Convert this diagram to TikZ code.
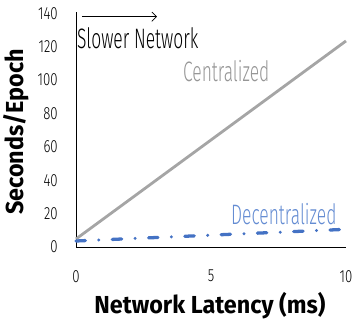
\documentclass[tikz,border=0pt]{standalone}
\usepackage{fontspec}
\usepackage{xcolor}
\usepackage{tikz}
\usetikzlibrary{arrows.meta}
\newfontfamily\thinfont{Fira Sans Light}[FakeStretch=0.62]
\newfontfamily\tickfont{Fira Sans Light}[FakeStretch=0.75]
\newfontfamily\heavyfont{Fira Sans Bold}[FakeStretch=0.95]
\definecolor{centralgray}{RGB}{165,165,165}
\definecolor{centraltext}{RGB}{150,150,150}
\definecolor{decblue}{RGB}{68,114,196}
\definecolor{dectext}{RGB}{100,140,210}

\begin{document}
\begin{tikzpicture}[x=0.81cm, y=0.0501cm,
  axis/.style={draw=black, line width=0.8pt},
  ticklabel/.style={font=\tickfont\fontsize{15}{15}\selectfont, inner sep=0pt},
  serieslabel/.style={font=\thinfont\fontsize{24}{24}\selectfont, inner sep=0pt},
  axislabel/.style={font=\heavyfont\fontsize{21}{21}\selectfont, inner sep=0pt},
  central/.style={centralgray, line width=2.4pt},
  decentral/.style={decblue, line width=2.8pt, line cap=round, dash pattern=on 8pt off 11.5pt on 0pt off 11.5pt},
]
  \useasboundingbox (-2.28cm,-2.28cm) rectangle (8.43cm,7.41cm);

  % Axes
  \coordinate (origin) at (0,0);
  \coordinate (ytop) at (0,140.7);
  \coordinate (xend) at (10,0);
  \draw[axis] (ytop) -- (origin) -- (xend);

  % Tick labels
  \foreach \v in {0,20,...,140}
    \node[ticklabel, anchor=east] (ytick\v) at (-0.67,\v) {\v};
  \foreach \v in {0,5,10}
    \node[ticklabel] (xtick\v) at (\v,-17.5) {\v};

  % Axis titles
  \node[axislabel] (xtitle) at (4.96,-35) {Network Latency (ms)};
  \node[axislabel, rotate=90] (ytitle) at (-2.2,69) {Seconds/Epoch};

  % Series
  \coordinate (cstart) at (0,4.8);
  \coordinate (cend) at (10,123.4);
  \draw[central] (cstart) -- (cend);
  \coordinate (dstart) at (0,3.6);
  \coordinate (dend) at (10,10.6);
  \draw[decentral] (dstart) -- (dend);

  % Series labels
  \node[serieslabel, text=centraltext, anchor=base west] (clabel) at (3.96,99.4) {Centralized};
  \node[serieslabel, text=dectext, anchor=base west] (dlabel) at (5.74,13.2) {Decentralized};

  % Slower network note
  \node[serieslabel, anchor=base west] (slower) at (0.03,119) {Slower Network};
  \coordinate (arrowstart) at (0.22,137.9);
  \coordinate (arrowend) at (3.0,137.9);
  \draw[-{Straight Barb[length=4pt,width=8pt]}, line width=0.6pt] (arrowstart) -- (arrowend);
\end{tikzpicture}
\end{document}
